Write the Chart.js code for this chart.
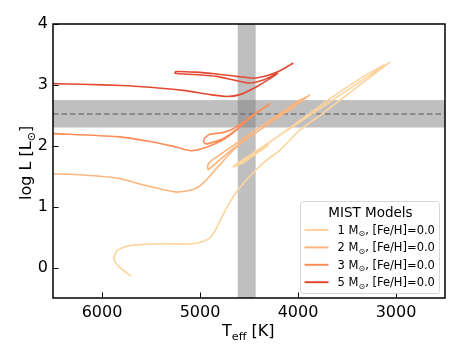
<!DOCTYPE html>
<html><head><meta charset="utf-8">
<script src="https://cdn.jsdelivr.net/npm/chart.js@4/dist/chart.umd.min.js"></script>
<style>html,body{margin:0;padding:0;background:#fff;overflow:hidden}canvas{display:block}</style>
</head><body>
<canvas id="c" width="463" height="358"></canvas>
<script>
const XTICKS = [3000, 4000, 5000, 6000];
const YTICKS = [0, 1, 2, 3, 4];
const MASSES = ['1', '2', '3', '5'];
const COLORS = ['#fdd49e', '#fdb57d', '#fc8d59', '#e34a33'];
const LEGEND_TITLE = 'MIST Models';

const M1_T = [5704, 5816, 5878, 5850, 5748, 5579, 5340, 5068, 4966, 4898, 4830, 4789, 4728, 4626, 4490, 4354, 4184, 3980, 3758, 3400, 3068, 3860, 4660, 4560, 4330, 4300, 4600, 4640, 4450, 4200, 3950, 3650, 3350, 3120];
const M1_L = [-0.14, 0.00, 0.13, 0.27, 0.35, 0.38, 0.39, 0.39, 0.43, 0.49, 0.65, 0.79, 0.98, 1.25, 1.50, 1.72, 1.93, 2.26, 2.52, 2.96, 3.37, 2.52, 1.66, 1.72, 1.98, 2.01, 1.70, 1.69, 1.88, 2.16, 2.45, 2.80, 3.12, 3.33];

const M2_T = [6500, 6191, 5850, 5510, 5238, 5068, 4966, 4830, 4660, 4490, 4150, 3884, 4300, 4650, 4915, 4920, 4895, 4700, 4450, 4180, 3990, 3900];
const M2_L = [1.54, 1.52, 1.47, 1.33, 1.24, 1.28, 1.39, 1.63, 1.93, 2.15, 2.52, 2.83, 2.36, 1.97, 1.61, 1.68, 1.74, 1.96, 2.24, 2.53, 2.74, 2.81];

const M3_T = [6500, 5850, 5510, 5272, 5102, 4966, 4762, 4626, 4456, 4286, 4456, 4626, 4762, 4864, 4939, 4962, 4955, 4930, 4898, 4762, 4660, 4520, 4380, 4300];
const M3_L = [2.20, 2.15, 2.07, 1.99, 1.92, 1.96, 2.10, 2.26, 2.51, 2.69, 2.50, 2.27, 2.12, 2.06, 2.03, 2.06, 2.12, 2.16, 2.19, 2.22, 2.28, 2.43, 2.59, 2.67];

const M5_T = [6500, 6200, 5800, 5510, 5170, 4898, 4728, 4592, 4422, 4300, 4210, 4260, 4354, 4490, 4626, 4830, 5050, 5255, 5245, 5050, 4830, 4626, 4456, 4320, 4201, 4120, 4048];
const M5_L = [3.02, 3.01, 2.99, 2.96, 2.91, 2.84, 2.81, 2.84, 2.97, 3.09, 3.19, 3.15, 3.08, 3.03, 3.07, 3.14, 3.17, 3.19, 3.22, 3.21, 3.18, 3.14, 3.11, 3.15, 3.22, 3.29, 3.36];

const TEFF_BAND = [4432, 4615];
const LOGL_BAND = [2.30, 2.75];
const LOGL_LINE = 2.52;

const TRACKS = [[M1_T, M1_L], [M2_T, M2_L], [M3_T, M3_L], [M5_T, M5_L]];
const FONT = '"DejaVu Sans", sans-serif';

function drawParts(ctx, parts, x, y, size) {
  let cx = x;
  parts.forEach(p => {
    const s = p.sub ? size * 0.7 : size;
    ctx.font = s + 'px ' + FONT;
    ctx.fillText(p.t, cx, y + (p.sub ? size * 0.22 : 0));
    cx += ctx.measureText(p.t).width;
  });
}

const decor = {
  id: 'decor',
  beforeDatasetsDraw(chart) {
    const { ctx, chartArea: a, scales: { x, y } } = chart;
    ctx.save();
    ctx.fillStyle = 'rgba(128,128,128,0.5)';
    const x1 = x.getPixelForValue(TEFF_BAND[1]), x2 = x.getPixelForValue(TEFF_BAND[0]);
    ctx.fillRect(x1, a.top, x2 - x1, a.bottom - a.top);
    const y1 = y.getPixelForValue(LOGL_BAND[1]), y2 = y.getPixelForValue(LOGL_BAND[0]);
    ctx.fillRect(a.left, y1, a.right - a.left, y2 - y1);
    ctx.strokeStyle = '#7a7a7a';
    ctx.lineWidth = 1.5;
    ctx.setLineDash([5.5, 3]);
    const yl = y.getPixelForValue(LOGL_LINE);
    ctx.beginPath(); ctx.moveTo(a.left, yl); ctx.lineTo(a.right, yl); ctx.stroke();
    ctx.restore();
  },
  afterDraw(chart) {
    const { ctx, chartArea: a, scales: { x, y } } = chart;
    ctx.save();
    ctx.strokeStyle = '#000';
    ctx.lineWidth = 1;
    XTICKS.forEach(v => {
      const px = Math.round(x.getPixelForValue(v)) + 0.5;
      ctx.beginPath(); ctx.moveTo(px, a.bottom); ctx.lineTo(px, a.bottom - 5.5); ctx.stroke();
    });
    YTICKS.forEach(v => {
      const py = Math.round(y.getPixelForValue(v)) + 0.5;
      ctx.beginPath(); ctx.moveTo(a.left, py); ctx.lineTo(a.left + 5.5, py); ctx.stroke();
    });
    ctx.lineWidth = 1.5;
    ctx.strokeRect(a.left, a.top, a.right - a.left, a.bottom - a.top);

    // legend
    const lx = 300.5, ly = 201.5, lw = 139, lh = 92, r = 3;
    ctx.beginPath();
    ctx.moveTo(lx + r, ly); ctx.lineTo(lx + lw - r, ly); ctx.quadraticCurveTo(lx + lw, ly, lx + lw, ly + r);
    ctx.lineTo(lx + lw, ly + lh - r); ctx.quadraticCurveTo(lx + lw, ly + lh, lx + lw - r, ly + lh);
    ctx.lineTo(lx + r, ly + lh); ctx.quadraticCurveTo(lx, ly + lh, lx, ly + lh - r);
    ctx.lineTo(lx, ly + r); ctx.quadraticCurveTo(lx, ly, lx + r, ly);
    ctx.closePath();
    ctx.fillStyle = 'rgba(255,255,255,0.85)';
    ctx.fill();
    ctx.strokeStyle = '#d6d6d6';
    ctx.lineWidth = 1;
    ctx.stroke();

    ctx.fillStyle = '#000';
    ctx.textBaseline = 'alphabetic';
    ctx.textAlign = 'center';
    ctx.font = '13.5px ' + FONT;
    ctx.fillText(LEGEND_TITLE, 370.5, 216.5);
    ctx.textAlign = 'left';
    MASSES.forEach((m, i) => {
      const yy = 230 + i * 17.4;
      ctx.strokeStyle = COLORS[i];
      ctx.lineWidth = 2;
      ctx.beginPath(); ctx.moveTo(304.5, yy); ctx.lineTo(328.5, yy); ctx.stroke();
      ctx.fillStyle = '#000';
      drawParts(ctx, [{ t: m + ' M' }, { t: '\u2299', sub: true }, { t: ', [Fe/H]=0.0' }], 337.5, yy + 3.8, 11.5);
    });

    // axis titles
    ctx.fillStyle = '#000';
    drawParts(ctx, [{ t: 'T' }, { t: 'eff', sub: true }, { t: ' [K]' }], 222, 336, 16);
    ctx.translate(31, 200);
    ctx.rotate(-Math.PI / 2);
    drawParts(ctx, [{ t: 'log L [L' }, { t: '\u2299', sub: true }, { t: ']' }], 0, 0, 16);
    ctx.restore();
  }
};

const datasets = TRACKS.map((tr, i) => ({
  label: MASSES[i] + ' M\u2299, [Fe/H]=0.0',
  data: tr[0].map((t, j) => ({ x: t, y: tr[1][j] })),
  showLine: true,
  borderColor: COLORS[i],
  backgroundColor: COLORS[i],
  borderWidth: 1.6,
  pointRadius: 0,
  tension: 0.2,
  fill: false
}));

new Chart(document.getElementById('c'), {
  type: 'scatter',
  data: { datasets },
  options: {
    responsive: false,
    animation: false,
    devicePixelRatio: 1,
    layout: { padding: { top: 24, right: 18, left: 0, bottom: 0 } },
    plugins: { legend: { display: false }, tooltip: { enabled: false } },
    scales: {
      x: {
        type: 'linear', reverse: true, min: 2500, max: 6500,
        afterBuildTicks(s) { s.ticks = XTICKS.map(v => ({ value: v })); },
        afterFit(s) { s.height = 60; },
        grid: { display: false, drawTicks: false },
        border: { display: false },
        ticks: { color: '#000', font: { family: FONT, size: 16 }, padding: 5, maxRotation: 0, callback: v => String(v) }
      },
      y: {
        type: 'linear', min: -0.5, max: 4,
        afterBuildTicks(s) { s.ticks = YTICKS.map(v => ({ value: v })); },
        afterFit(s) { s.width = 53; },
        grid: { display: false, drawTicks: false },
        border: { display: false },
        ticks: { color: '#000', font: { family: FONT, size: 16 }, padding: 5, callback: v => String(v) }
      }
    }
  },
  plugins: [decor]
});
</script>
</body></html>
